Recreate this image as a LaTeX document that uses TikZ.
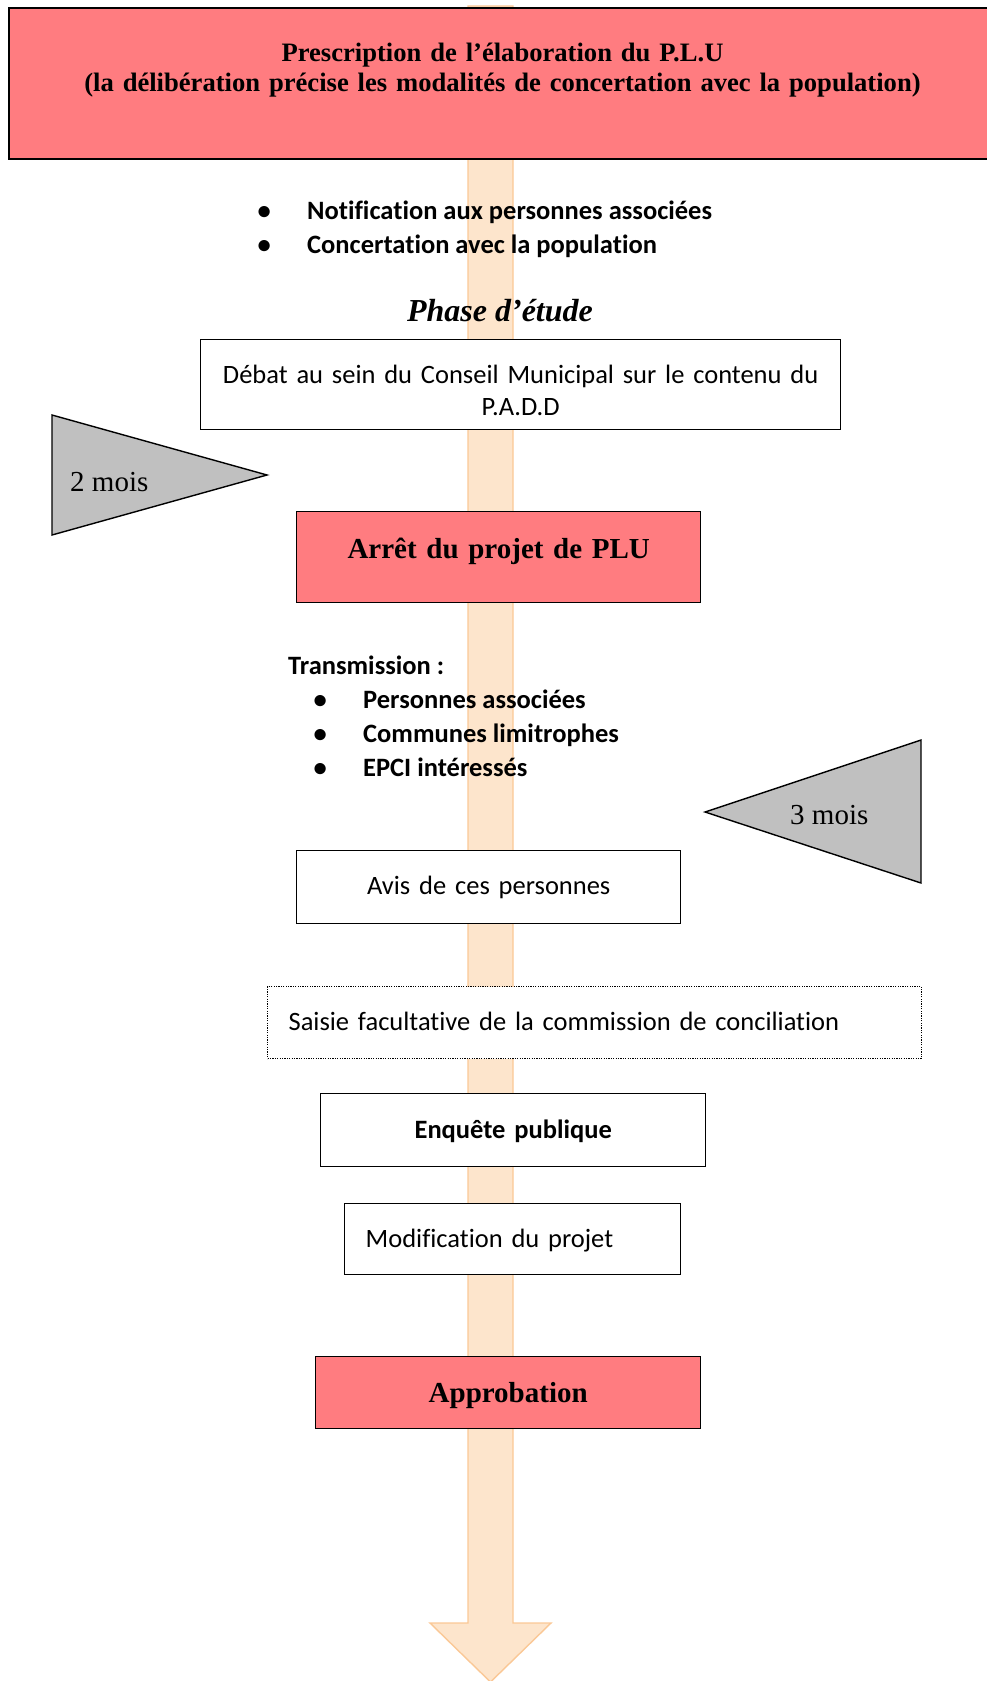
\documentclass[tikz,border=0pt]{standalone}
\usepackage{fontspec}
\setmainfont{Liberation Serif}
\newfontfamily\calibri[Ligatures=NoCommon]{Carlito}
\usepackage{tikz}
\usetikzlibrary{positioning}

\definecolor{pluRed}{RGB}{255,124,128}
\definecolor{pluGray}{RGB}{192,192,192}
\definecolor{flowFill}{RGB}{253,229,204}
\definecolor{flowLine}{RGB}{250,200,150}

\newcommand{\puce}{\makebox[0pt]{\textbullet}\hspace{43pt}}
\protected\def\calspace{\spaceskip=5.6pt plus 1pt minus 1pt\relax}

\begin{document}
\begin{tikzpicture}[x=1pt,y=-1pt,
	box/.style={draw,line width=1.4pt,fill=white,inner sep=0pt,anchor=north west,align=center},
	redbox/.style={box,fill=pluRed,font=\bfseries\fontsize{29}{34}\selectfont},
	optbox/.style={box,line width=1.2pt,dash pattern=on 1.2pt off 1.2pt},
	cal/.style={font=\calibri\fontsize{26.5}{32}\selectfont\calspace},
	calbf/.style={font=\calibri\bfseries\fontsize{26.5}{34}\selectfont},
	delay/.style={draw,line width=1.4pt,fill=pluGray},
	mois/.style={font=\fontsize{29}{34}\selectfont,anchor=base west,inner sep=0pt},
	flow/.style={draw=flowLine,line width=1.4pt,fill=flowFill}]
	\useasboundingbox (0,0) rectangle (987,1681);
	%
	% the big arrow behind everything
	\draw[flow] (468,6) -- (513,6) -- (513,1623) -- (551,1623) -- (490.5,1682)
		-- (430,1623) -- (468,1623) -- cycle;
	%
	\node[redbox,line width=2pt,text width=987pt,text height=53pt,text depth=98pt,
		font=\bfseries\fontsize{26.6}{30}\selectfont] (prescr) at (8,7)
		{Prescription de l’élaboration du P.L.U\\(la délibération précise les modalités de concertation avec la population)};
	\node[calbf,anchor=base west,inner sep=0pt] (notif) at (264,219)
		{\begin{tabular}[t]{@{}l@{}}\puce Notification aux personnes associées\\
		\puce Concertation avec la population\end{tabular}};
	\node[font=\bfseries\itshape\fontsize{32}{38}\selectfont,anchor=base,inner sep=0pt] (phase) at (500,321) {Phase d’étude};
	\node[box,cal,text width=640pt,text height=44pt,text depth=46pt] (debat) at (200,339)
		{Débat au sein du Conseil Municipal sur le contenu du\\P.A.D.D};
	\node[redbox,text width=404pt,text height=47pt,text depth=44pt] (arret) at (296,511) {Arrêt du projet de PLU};
	\node[calbf,anchor=base west,inner sep=0pt] (transm) at (288,674)
		{\begin{tabular}[t]{@{}l@{}}Transmission :\\
		\hspace{32pt}\puce Personnes associées\\
		\hspace{32pt}\puce Communes limitrophes\\
		\hspace{32pt}\puce EPCI intéressés\end{tabular}};
	\node[box,cal,text width=384pt,text height=44pt,text depth=29pt] (avis) at (296,850) {Avis de ces personnes};
	\node[optbox,cal,align=left,inner xsep=21pt,text width=612pt,text height=44pt,text depth=28pt] (saisie) at (267,986)
		{Saisie facultative de la commission de conciliation};
	\node[box,calbf,text width=385pt,text height=45pt,text depth=28pt] (enquete) at (320,1093) {Enquête publique};
	\node[box,cal,align=left,inner xsep=21pt,text width=294pt,text height=44pt,text depth=27pt] (modif) at (344,1203)
		{Modification du projet};
	\node[redbox,text width=385pt,text height=46pt,text depth=26pt] (approb) at (315,1356) {Approbation};
	%
	% delays
	\coordinate (dA) at (52,415);
	\coordinate (dB) at (267,475);
	\coordinate (dC) at (52,535);
	\draw[delay] (dA) -- (dB) -- (dC) -- cycle;
	\node[mois] (deux) at (70,491) {2 mois};
	\coordinate (tA) at (921,740);
	\coordinate (tB) at (705,812);
	\coordinate (tC) at (921,883);
	\draw[delay] (tA) -- (tB) -- (tC) -- cycle;
	\node[mois] (trois) at (790,824) {3 mois};
\end{tikzpicture}
\end{document}
